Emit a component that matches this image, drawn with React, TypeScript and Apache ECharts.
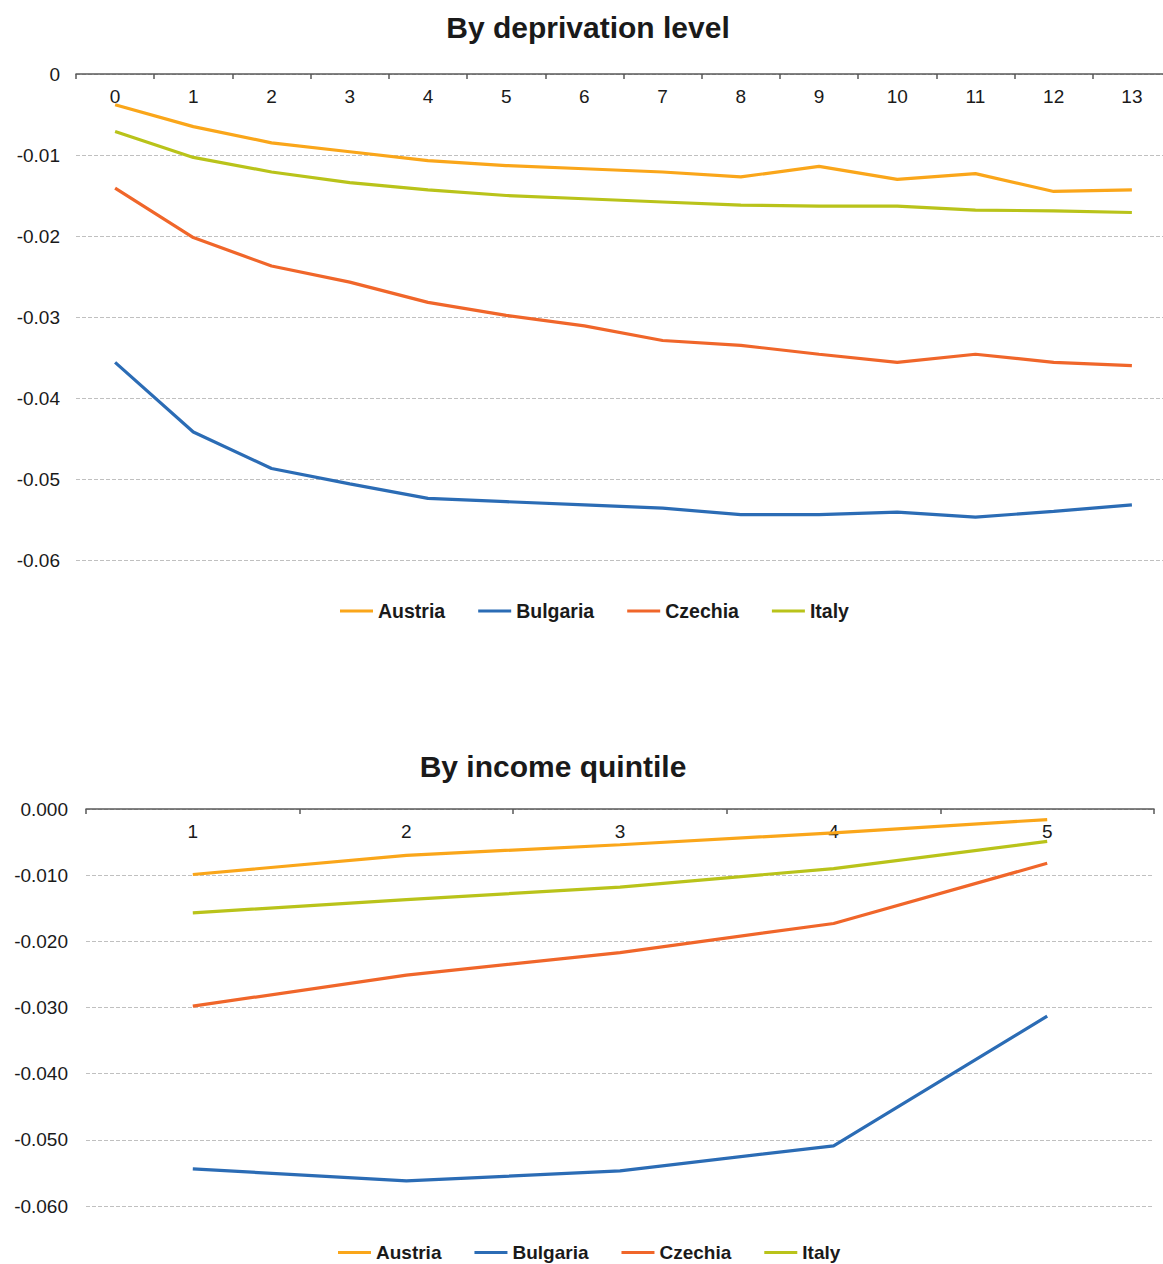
import React, { useEffect, useRef } from "react";
import * as echarts from "echarts";

// Upper panel: by deprivation level (0–13)
const deprivationLevels = ["0", "1", "2", "3", "4", "5", "6", "7", "8", "9", "10", "11", "12", "13"];
const depAustria = [-0.0038, -0.0065, -0.0085, -0.0096, -0.0107, -0.0113, -0.0117, -0.0121, -0.0127, -0.0114, -0.013, -0.0123, -0.0145, -0.0143];
const depBulgaria = [-0.0356, -0.0442, -0.0487, -0.0506, -0.0524, -0.0528, -0.0532, -0.0536, -0.0544, -0.0544, -0.0541, -0.0547, -0.054, -0.0532];
const depCzechia = [-0.0141, -0.0202, -0.0237, -0.0257, -0.0282, -0.0298, -0.0311, -0.0329, -0.0335, -0.0346, -0.0356, -0.0346, -0.0356, -0.036];
const depItaly = [-0.0071, -0.0103, -0.0121, -0.0134, -0.0143, -0.015, -0.0154, -0.0158, -0.0162, -0.0163, -0.0163, -0.0168, -0.0169, -0.0171];

// Lower panel: by income quintile (1–5)
const quintiles = ["1", "2", "3", "4", "5"];
const incAustria = [-0.0099, -0.007, -0.0054, -0.0036, -0.0016];
const incBulgaria = [-0.0544, -0.0562, -0.0547, -0.0509, -0.0313];
const incCzechia = [-0.0298, -0.0251, -0.0217, -0.0173, -0.0082];
const incItaly = [-0.0157, -0.0137, -0.0118, -0.009, -0.0049];

const countries = ["Austria", "Bulgaria", "Czechia", "Italy"];
const colors = ["#FAA61A", "#2B6CB5", "#F0662A", "#B9C31A"];

const FONT = "Liberation Sans, Arial, sans-serif";

export default function App() {
  const ref = useRef<HTMLDivElement>(null);

  useEffect(() => {
    if (!ref.current) return;
    const chart = echarts.init(ref.current, undefined, { renderer: "svg" });

    const depData = [depAustria, depBulgaria, depCzechia, depItaly];
    const incData = [incAustria, incBulgaria, incCzechia, incItaly];

    const xAxisCommon = (cats: string[], gridIndex: number) => ({
      type: "category" as const,
      gridIndex,
      data: cats,
      position: "top" as const,
      boundaryGap: true,
      axisLine: { show: true, lineStyle: { color: "#595959", width: 1.5 } },
      axisTick: { show: true, inside: true, length: 5, lineStyle: { color: "#595959", width: 1.5 } },
      axisLabel: { inside: true, margin: 13, color: "#1a1a1a", fontSize: 19, fontFamily: FONT },
      splitLine: { show: false },
    });

    const yAxisCommon = (gridIndex: number, decimals: number, margin: number) => ({
      type: "value" as const,
      gridIndex,
      min: -0.06,
      max: 0,
      interval: 0.01,
      axisLine: { show: false },
      axisTick: { show: false },
      axisLabel: {
        margin,
        color: "#1a1a1a",
        fontSize: 19,
        fontFamily: FONT,
        formatter: (v: number) => {
          if (decimals === 0) {
            const r = Math.round(v * 100) / 100;
            return r === 0 ? "0" : String(r);
          }
          return (Math.abs(v) < 1e-9 ? 0 : v).toFixed(decimals);
        },
      },
      splitLine: { show: true, lineStyle: { color: "#c0c0c0", type: "dashed", width: 1 } },
    });

    const lineSeries = (name: string, data: number[], color: string, idx: number) => ({
      name,
      type: "line" as const,
      xAxisIndex: idx,
      yAxisIndex: idx,
      data,
      symbol: "none",
      lineStyle: { color, width: 3.2 },
      itemStyle: { color },
      z: 3,
    });

    const legendCommon = {
      icon: "rect",
      itemWidth: 33,
      itemHeight: 3,
      itemGap: 33,
      data: countries,
    };
    const legendText = (size: number) => ({
      fontSize: size,
      fontWeight: "bold" as const,
      color: "#1a1a1a",
      fontFamily: FONT,
    });

    chart.setOption({
      animation: false,
      backgroundColor: "#ffffff",
      title: [
        {
          text: "By deprivation level",
          left: 583,
          top: 7,
          textAlign: "center",
          textStyle: { fontSize: 30, fontWeight: "bold", color: "#1a1a1a", fontFamily: FONT },
        },
        {
          text: "By income quintile",
          left: 548,
          top: 746,
          textAlign: "center",
          textStyle: { fontSize: 30, fontWeight: "bold", color: "#1a1a1a", fontFamily: FONT },
        },
      ],
      legend: [
        { ...legendCommon, left: 335, top: 596, textStyle: legendText(19.5) },
        { ...legendCommon, left: 333, top: 1238, textStyle: legendText(19) },
      ],
      grid: [
        // the upper plot area runs slightly past the right edge of the page
        { left: 76, width: 1095, top: 74, height: 486, containLabel: false },
        { left: 86, width: 1068, top: 809, height: 397, containLabel: false },
      ],
      xAxis: [xAxisCommon(deprivationLevels, 0), xAxisCommon(quintiles, 1)],
      yAxis: [yAxisCommon(0, 0, 16), yAxisCommon(1, 3, 18)],
      series: [
        ...countries.map((c, i) => lineSeries(c, depData[i], colors[i], 0)),
        ...countries.map((c, i) => lineSeries(c, incData[i], colors[i], 1)),
      ],
    });

    return () => chart.dispose();
  }, []);

  return (
    <div
      style={{
        position: "absolute",
        left: 0,
        top: 0,
        width: 1163,
        height: 1264,
        overflow: "hidden",
        background: "#ffffff",
      }}
    >
      <div ref={ref} style={{ width: 1180, height: 1264 }} />
    </div>
  );
}
